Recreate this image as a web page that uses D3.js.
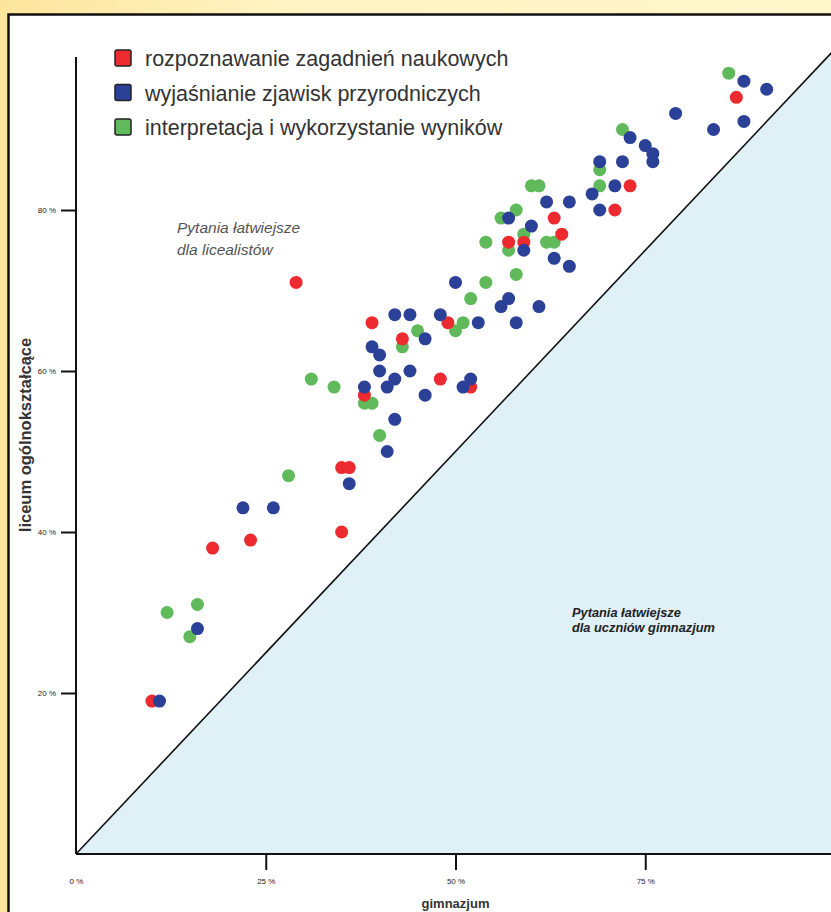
<!DOCTYPE html>
<html>
<head>
<meta charset="utf-8">
<script src="https://cdn.jsdelivr.net/npm/d3@7"></script>
<style>
  body { margin: 0; padding: 0; }
  svg { display: block; font-family: "Liberation Sans", Arial, sans-serif; }
</style>
</head>
<body>
<svg class="main-graphic"></svg>
<script>
// gimnazjum vs liceum, % correct answers per item
var seriesNames = ["rozpoznawanie zagadnień naukowych", "wyjaśnianie zjawisk przyrodniczych", "interpretacja i wykorzystanie wyników"];
var seriesColors = ["#ec2a2f", "#2b4197", "#60b95b"];

var redPoints = [[10,19],[18,38],[23,39],[29,71],[35,40],[35,48],[36,48],[38,57],[39,66],[43,64],
  [48,59],[49,66],[52,58],[57,76],[59,76],[63,79],[64,77],[71,80],[73,83],[87,94]];

var bluePoints = [[11,19],[16,28],[22,43],[26,43],[36,46],[41,50],[42,54],[38,58],[41,58],[39,63],
  [40,62],[40,60],[42,59],[44,60],[46,57],[42,67],[44,67],[46,64],[48,67],[50,71],[51,58],[52,59],
  [53,66],[56,68],[57,69],[58,66],[61,68],[57,79],[60,78],[59,75],[63,74],[65,73],[62,81],[65,81],
  [68,82],[69,80],[71,83],[69,86],[72,86],[73,89],[75,88],[76,87],[76,86],[79,92],[84,90],[88,91],
  [88,96],[91,95]];

var greenPoints = [[12,30],[16,31],[15,27],[28,47],[31,59],[34,58],[38,56],[39,56],[40,52],[43,63],
  [45,65],[50,65],[51,66],[52,69],[54,71],[58,72],[54,76],[57,75],[59,77],[56,79],[58,80],[60,83],
  [61,83],[62,76],[63,76],[69,83],[69,85],[72,90],[86,97]];

var xTicks = [0, 25, 50, 75];
var yTicks = [20, 40, 60, 80];

var width = 831, height = 912;

var svg = d3.select(".main-graphic")
    .attr("width", width)
    .attr("height", height);

var defs = svg.append("defs");
var grad = defs.append("linearGradient")
    .attr("id", "bg")
    .attr("x1", "0").attr("y1", "0")
    .attr("x2", "1").attr("y2", "0");
grad.append("stop").attr("offset", "0").attr("stop-color", "#fde59c");
grad.append("stop").attr("offset", "0.35").attr("stop-color", "#fff4c4");
grad.append("stop").attr("offset", "1").attr("stop-color", "#fff6cc");

svg.append("rect")
    .attr("width", width)
    .attr("height", height)
    .attr("fill", "url(#bg)");

// white panel
svg.append("rect")
    .attr("x", 8.5)
    .attr("y", 14.5)
    .attr("width", 900)
    .attr("height", 1000)
    .attr("fill", "#fff")
    .attr("stroke", "#111")
    .attr("stroke-width", 2.5);

var x = d3.scaleLinear().domain([0, 100]).range([76, 835]);
var y = d3.scaleLinear().domain([0, 100]).range([854, 49]);

// area below diagonal
var xMax = 100;
svg.append("path")
    .attr("d", d3.line()([[x(0), y(0)], [x(xMax), y(xMax)], [x(xMax), y(0)]]) + "Z")
    .attr("fill", "#dff0f7");

svg.append("line")
    .attr("x1", x(0)).attr("y1", y(0))
    .attr("x2", x(xMax)).attr("y2", y(xMax))
    .attr("stroke", "#111")
    .attr("stroke-width", 1.6);

// axes
var yAxis = svg.append("g")
    .attr("transform", "translate(" + x(0) + ",0)")
    .call(d3.axisLeft(y).tickValues(yTicks).tickSize(15).tickPadding(5)
      .tickFormat(function(d) { return d + " %"; }));
yAxis.select(".domain").attr("stroke", "#111").attr("stroke-width", 2)
    .attr("d", "M0," + y(0) + "V" + y(99));
yAxis.selectAll(".tick line").attr("stroke", "#111").attr("stroke-width", 2);
yAxis.selectAll(".tick text").attr("font-size", 8).attr("fill", "#222")
    .attr("font-family", "Liberation Sans, Arial, sans-serif");

var xAxis = svg.append("g")
    .attr("transform", "translate(0," + y(0) + ")")
    .call(d3.axisBottom(x).tickValues(xTicks).tickSize(16).tickPadding(8)
      .tickFormat(function(d) { return d + " %"; }));
xAxis.select(".domain").attr("stroke", "#111").attr("stroke-width", 2)
    .attr("d", "M" + x(0) + ",0H" + width);
xAxis.selectAll(".tick line").attr("stroke", "#111").attr("stroke-width", 2)
    .attr("opacity", function(d) { return d === 0 ? 0 : 1; });
xAxis.selectAll(".tick text").attr("font-size", 8).attr("fill", "#222")
    .attr("font-family", "Liberation Sans, Arial, sans-serif");

// axis titles
svg.append("text")
    .attr("x", x(50))
    .attr("y", 908)
    .attr("text-anchor", "middle")
    .attr("font-size", 13)
    .attr("font-weight", "bold")
    .attr("fill", "#333")
    .text("gimnazjum");

svg.append("text")
    .attr("transform", "translate(31,435) rotate(-90)")
    .attr("text-anchor", "middle")
    .attr("font-size", 16.5)
    .attr("font-weight", "bold")
    .attr("fill", "#333")
    .text("liceum ogólnokształcące");

// annotations
var note1 = svg.append("text")
    .attr("font-size", 15.5)
    .attr("font-style", "italic")
    .attr("fill", "#555");
note1.append("tspan").attr("x", 177).attr("y", 233).text("Pytania łatwiejsze");
note1.append("tspan").attr("x", 177).attr("y", 255).text("dla licealistów");

var note2 = svg.append("text")
    .attr("font-size", 12.8)
    .attr("font-style", "italic")
    .attr("font-weight", "bold")
    .attr("fill", "#222");
note2.append("tspan").attr("x", 572).attr("y", 617).text("Pytania łatwiejsze");
note2.append("tspan").attr("x", 572).attr("y", 632).text("dla uczniów gimnazjum");

// points: green, red, blue
var layers = [[greenPoints, seriesColors[2]], [redPoints, seriesColors[0]], [bluePoints, seriesColors[1]]];
layers.forEach(function(layer) {
  svg.append("g").selectAll("circle")
      .data(layer[0])
    .enter().append("circle")
      .attr("cx", function(d) { return x(d[0]); })
      .attr("cy", function(d) { return y(d[1]); })
      .attr("r", 6.5)
      .attr("fill", layer[1]);
});

// legend
var legend = svg.append("g").selectAll(".legend-item")
    .data(seriesNames)
  .enter().append("g")
    .attr("class", "legend-item")
    .attr("transform", function(d, i) { return "translate(115," + (58 + i * 34.5) + ")"; });

legend.append("rect")
    .attr("x", 0)
    .attr("y", -8)
    .attr("width", 16)
    .attr("height", 16)
    .attr("rx", 2)
    .attr("fill", function(d, i) { return seriesColors[i]; })
    .attr("stroke", "#222")
    .attr("stroke-width", 1.5);

legend.append("text")
    .attr("x", 30)
    .attr("y", 8)
    .attr("font-size", 21.5)
    .attr("fill", "#333")
    .text(function(d) { return d; });
</script>
</body>
</html>
